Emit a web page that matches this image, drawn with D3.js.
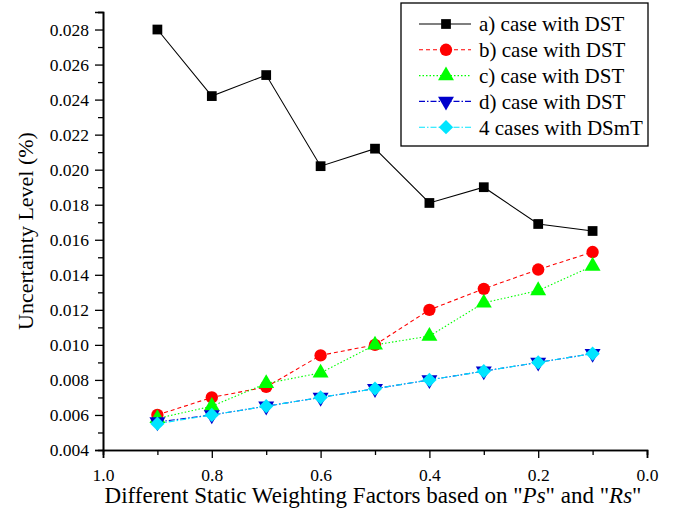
<!DOCTYPE html>
<html>
<head>
<meta charset="utf-8">
<script src="https://cdn.jsdelivr.net/npm/d3@7"></script>
<style>
  body { margin: 0; background: #fff; }
  svg text { font-family: "Liberation Serif", "Times New Roman", serif !important; }
</style>
</head>
<body>
<svg id="chart" width="675" height="519"></svg>
<script>
const width = 675;
const height = 519;

// weighting factors (x)
const factors = [0.9, 0.8, 0.7, 0.6, 0.5, 0.4, 0.3, 0.2, 0.1];

// series values
const caseA = [0.0280, 0.0242, 0.0254, 0.0202, 0.0212, 0.0181, 0.0190, 0.0169, 0.0165];
const caseB = [0.0060, 0.0070, 0.0076, 0.0094, 0.0100, 0.0120, 0.0132, 0.0143, 0.0153];
const caseC = [0.0058, 0.0065, 0.0078, 0.0084, 0.0100, 0.0105, 0.0124, 0.0131, 0.0145];
const caseD = [0.0056, 0.0060, 0.0065, 0.0070, 0.0075, 0.0080, 0.0085, 0.0090, 0.0095];
const dsmt  = [0.0055, 0.0060, 0.0065, 0.0070, 0.0075, 0.0080, 0.0085, 0.0090, 0.0095];

const xTicks = [1.0, 0.8, 0.6, 0.4, 0.2, 0.0];
const yTicks = [0.004, 0.006, 0.008, 0.010, 0.012, 0.014, 0.016, 0.018, 0.020, 0.022, 0.024, 0.026, 0.028];

const seriesNames = ["a) case with DST", "b) case with DST", "c) case with DST", "d) case with DST", "4 cases with DSmT"];

const series = [
    { name: seriesNames[0], values: caseA, color: "#000000", dash: null, symbol: d3.symbolSquare, size: 95, rot: 0 },
    { name: seriesNames[1], values: caseB, color: "#ff0000", dash: "4,3", symbol: d3.symbolCircle, size: 120, rot: 0 },
    { name: seriesNames[2], values: caseC, color: "#00ff00", dash: "1.5,2", symbol: d3.symbolTriangle, size: 110, rot: 0 },
    { name: seriesNames[3], values: caseD, color: "#0000cc", dash: "6,2,1.5,2", symbol: d3.symbolTriangle, size: 110, rot: 180 },
    { name: seriesNames[4], values: dsmt, color: "#00e5ff", dash: "6,2,1.5,2", symbol: d3.symbolDiamond2, size: 130, rot: 0 }
];

const margin = { left: 103, right: 28, top: 12, bottom: 69 };

const svg = d3.select("#chart");

const x = d3.scaleLinear().domain([1.0, 0.0]).range([margin.left, width - margin.right]);
const y = d3.scaleLinear().domain([0.004, 0.029]).range([height - margin.bottom, margin.top]);

// Оси
const xAxis = svg.append("g")
    .attr("transform", `translate(0,${height - margin.bottom})`)
    .call(d3.axisBottom(x).tickValues(xTicks).tickFormat(d3.format(".1f")).tickSize(8).tickPadding(6));

svg.append("g")
    .attr("transform", `translate(0,${height - margin.bottom})`)
    .call(d3.axisBottom(x).tickValues(d3.range(0.1, 1.0, 0.2)).tickFormat("").tickSize(5));

const yAxis = svg.append("g")
    .attr("transform", `translate(${margin.left},0)`)
    .call(d3.axisLeft(y).tickValues(yTicks).tickFormat(d3.format(".3f")).tickSize(8).tickPadding(6));

svg.append("g")
    .attr("transform", `translate(${margin.left},0)`)
    .call(d3.axisLeft(y).tickValues(d3.range(0.005, 0.0295, 0.002)).tickFormat("").tickSize(5));

svg.selectAll(".domain").attr("stroke", "#000").attr("stroke-width", 1.6);
svg.selectAll(".tick line").attr("stroke", "#000").attr("stroke-width", 1.3);
svg.selectAll(".tick text").attr("font-size", 17.5).attr("fill", "#000");
xAxis.selectAll(".tick text").attr("dy", "0.95em");

// Подписи осей
svg.append("text")
    .attr("transform", `translate(33,${(margin.top + height - margin.bottom) / 2}) rotate(-90)`)
    .attr("text-anchor", "middle")
    .attr("font-size", 22)
    .text("Uncertainty Level (%)");

const xt = svg.append("text")
    .attr("x", (margin.left + width - margin.right) / 2 - 2)
    .attr("y", 503)
    .attr("text-anchor", "middle")
    .attr("font-size", 23);
xt.append("tspan").text("Different Static Weighting Factors based on \"");
xt.append("tspan").attr("font-style", "italic").text("Ps");
xt.append("tspan").text("\" and \"");
xt.append("tspan").attr("font-style", "italic").text("Rs");
xt.append("tspan").text("\"");

// Линии и маркеры
const line = d3.line()
    .x((d, i) => x(factors[i]))
    .y(d => y(d));

series.forEach(s => {
    svg.append("path")
        .datum(s.values)
        .attr("d", line)
        .attr("fill", "none")
        .attr("stroke", s.color)
        .attr("stroke-width", 1.1)
        .attr("stroke-dasharray", s.dash);
});

series.forEach(s => {
    svg.selectAll(null)
        .data(s.values)
        .enter()
        .append("path")
        .attr("d", d3.symbol().type(s.symbol).size(s.size))
        .attr("transform", (d, i) => `translate(${x(factors[i])},${y(d)}) rotate(${s.rot})`)
        .attr("fill", s.color);
});

// Легенда
const legend = svg.append("g");
legend.append("rect")
    .attr("x", 401).attr("y", 3)
    .attr("width", 247).attr("height", 143)
    .attr("fill", "#fff")
    .attr("stroke", "#000")
    .attr("stroke-width", 1.3);

series.forEach((s, i) => {
    const ly = 24 + i * 25.8;
    legend.append("line")
        .attr("x1", 419).attr("x2", 471)
        .attr("y1", ly).attr("y2", ly)
        .attr("stroke", s.color)
        .attr("stroke-width", 1.1)
        .attr("stroke-dasharray", s.dash);
    legend.append("path")
        .attr("d", d3.symbol().type(s.symbol).size(s.size))
        .attr("transform", `translate(446,${ly}) rotate(${s.rot})`)
        .attr("fill", s.color);
    legend.append("text")
        .attr("x", 479).attr("y", ly)
        .attr("dy", "0.35em")
        .attr("font-size", 21)
        .text(s.name);
});
</script>
</body>
</html>
